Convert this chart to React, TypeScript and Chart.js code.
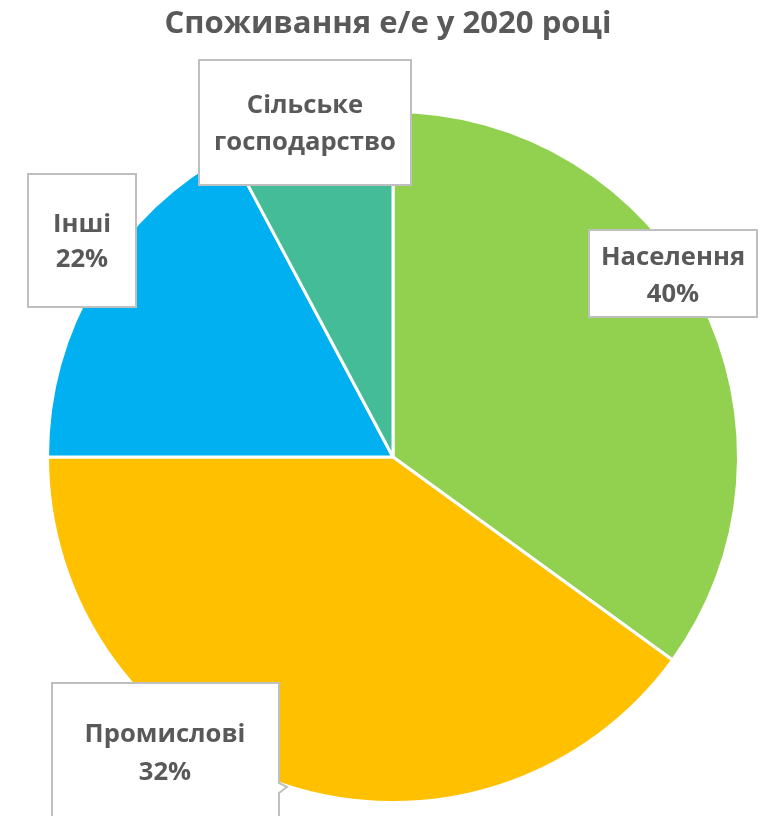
import { useEffect, useRef } from 'react';
import { Chart, registerables } from 'chart.js';

Chart.register(...registerables);

const TITLE = 'Споживання е/е у 2020 році';
const CATEGORIES = ['Населення', 'Промислові', 'Інші', 'Сільське господарство'];
const SHARES = [35, 40, 17.2, 7.8];
const LABEL_LINES = [
  ['Населення', '40%'],
  ['Промислові', '32%'],
  ['Інші', '22%'],
  ['Сільське', 'господарство'],
];
const COLORS = ['#92D050', '#FFC000', '#00B0F0', '#45BC98'];

// label box layout: [left, top, right, bottom], text centre x, line baselines
const LABEL_BOXES = [
  { box: [589, 230, 757, 317], cx: 673, base: [265, 302], pointer: null },
  { box: [52, 683, 279, 840], cx: 165, base: [742, 780], pointer: [783, 787, 793] },
  { box: [28, 174, 136, 307], cx: 82, base: [232, 267], pointer: null },
  { box: [199, 60, 411, 185], cx: 305, base: [113, 150], pointer: null },
];

const FONT = '"Open Sans", "Noto Sans", sans-serif';
const TEXT_COLOR = '#595959';
const TITLE_WIDTH = 447;
const LABEL_REF_WIDTH = 182; // width of "господарство"

function fitSize(ctx: CanvasRenderingContext2D, text: string, target: number) {
  ctx.font = `bold 100px ${FONT}`;
  const w = ctx.measureText(text).width;
  return (100 * target) / w;
}

const overlayPlugin = {
  id: 'overlay',
  afterDatasetsDraw(chart: any) {
    const ctx = chart.ctx as CanvasRenderingContext2D;
    ctx.save();
    // title
    const ts = fitSize(ctx, TITLE, TITLE_WIDTH);
    ctx.fillStyle = TEXT_COLOR;
    ctx.font = `bold ${ts}px ${FONT}`;
    ctx.textAlign = 'center';
    ctx.textBaseline = 'alphabetic';
    ctx.fillText(TITLE, 388, 33);

    const ls = fitSize(ctx, 'господарство', LABEL_REF_WIDTH);
    LABEL_BOXES.forEach((b, i) => {
      const [l, t, r, bt] = b.box;
      ctx.beginPath();
      ctx.moveTo(l, t);
      ctx.lineTo(r, t);
      if (b.pointer) {
        const [y1, ytip, y2] = b.pointer;
        ctx.lineTo(r, y1);
        ctx.lineTo(r + 8, ytip);
        ctx.lineTo(r, y2);
      }
      ctx.lineTo(r, bt);
      ctx.lineTo(l, bt);
      ctx.closePath();
      ctx.fillStyle = '#FFFFFF';
      ctx.fill();
      ctx.lineWidth = 2;
      ctx.strokeStyle = '#BFBFBF';
      ctx.stroke();

      ctx.fillStyle = TEXT_COLOR;
      ctx.font = `bold ${ls}px ${FONT}`;
      ctx.textAlign = 'center';
      LABEL_LINES[i].forEach((line, k) => {
        ctx.fillText(line, b.cx, b.base[k]);
      });
    });
    ctx.restore();
  },
};

export default function App() {
  const ref = useRef<HTMLCanvasElement | null>(null);
  useEffect(() => {
    if (!ref.current) return;
    const chart = new Chart(ref.current, {
      type: 'pie',
      data: {
        labels: CATEGORIES,
        datasets: [
          {
            data: SHARES,
            backgroundColor: COLORS,
            borderColor: '#FFFFFF',
            borderWidth: 3,
          },
        ],
      },
      options: {
        animation: false,
        responsive: true,
        maintainAspectRatio: false,
        layout: { padding: { left: 46, top: 110, right: 29, bottom: 12 } },
        plugins: {
          legend: { display: false },
          title: { display: false },
          tooltip: { enabled: false },
        },
      },
      plugins: [overlayPlugin],
    });
    return () => chart.destroy();
  }, []);
  return (
    <div style={{ position: 'absolute', left: 0, top: 0, width: 769, height: 816, background: '#fff' }}>
      <canvas ref={ref} />
    </div>
  );
}
